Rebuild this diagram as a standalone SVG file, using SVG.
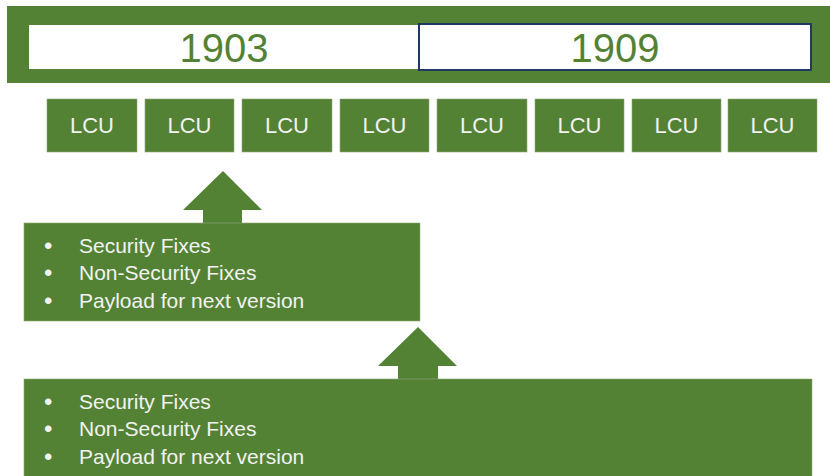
<svg xmlns="http://www.w3.org/2000/svg" width="830" height="476" viewBox="0 0 830 476">
<style>
.g{fill:#548235}
.lcu{fill:#548235;stroke:#8fa77c;stroke-width:0.6}
.lt{font-family:"Liberation Sans",Arial,sans-serif;font-size:22px;fill:#f2f2f2;text-anchor:middle}
.yr{font-family:"Liberation Sans",Arial,sans-serif;font-size:40px;fill:#548235;text-anchor:middle}
.bt{font-family:"Liberation Sans",Arial,sans-serif;font-size:21px;fill:#f2f2f2}
.bl{font-family:"Liberation Sans",Arial,sans-serif;font-size:24px;fill:#f2f2f2}
</style>
<rect x="0" y="0" width="830" height="476" fill="#ffffff"/>
<g id="timeline">
<rect class="g" x="7" y="6" width="823" height="77"/>
</g>
<g id="v1903">
<rect x="29" y="25" width="390" height="44" fill="#ffffff"/>
<text class="yr" x="224" y="62">1903</text>
</g>
<g id="v1909">
<rect x="419" y="24" width="392" height="46" fill="#ffffff" stroke="#203864" stroke-width="2"/>
<text class="yr" x="615" y="62">1909</text>
</g>
<g id="lcu1"><rect class="lcu" x="47" y="99" width="90" height="53"/><text class="lt" x="92" y="133">LCU</text></g>
<g id="lcu2"><rect class="lcu" x="145" y="99" width="89" height="53"/><text class="lt" x="189.5" y="133">LCU</text></g>
<g id="lcu3"><rect class="lcu" x="242" y="99" width="90" height="53"/><text class="lt" x="287" y="133">LCU</text></g>
<g id="lcu4"><rect class="lcu" x="340" y="99" width="89" height="53"/><text class="lt" x="384.5" y="133">LCU</text></g>
<g id="lcu5"><rect class="lcu" x="437" y="99" width="90" height="53"/><text class="lt" x="482" y="133">LCU</text></g>
<g id="lcu6"><rect class="lcu" x="535" y="99" width="89" height="53"/><text class="lt" x="579.5" y="133">LCU</text></g>
<g id="lcu7"><rect class="lcu" x="632" y="99" width="89" height="53"/><text class="lt" x="676.5" y="133">LCU</text></g>
<g id="lcu8"><rect class="lcu" x="728" y="99" width="89" height="53"/><text class="lt" x="772.5" y="133">LCU</text></g>
<g id="connectors">
<polygon class="g" points="223,171 262,210 242,210 242,224 203,224 203,210 183,210"/>
<polygon class="g" points="418,327 457,366 438,366 438,380 398,380 398,366 378,366"/>
</g>
<g id="fixes1">
<rect class="lcu" x="24" y="223" width="396" height="98"/>
<text class="bl" x="44" y="254">•</text><text class="bt" x="79" y="253">Security Fixes</text>
<text class="bl" x="44" y="281">•</text><text class="bt" x="79" y="280">Non-Security Fixes</text>
<text class="bl" x="44" y="309">•</text><text class="bt" x="79" y="308">Payload for next version</text>
</g>
<g id="fixes2">
<rect class="lcu" x="24" y="379" width="788" height="100"/>
<text class="bl" x="44" y="410">•</text><text class="bt" x="79" y="409">Security Fixes</text>
<text class="bl" x="44" y="437">•</text><text class="bt" x="79" y="436">Non-Security Fixes</text>
<text class="bl" x="44" y="465">•</text><text class="bt" x="79" y="464">Payload for next version</text>
</g>
</svg>
